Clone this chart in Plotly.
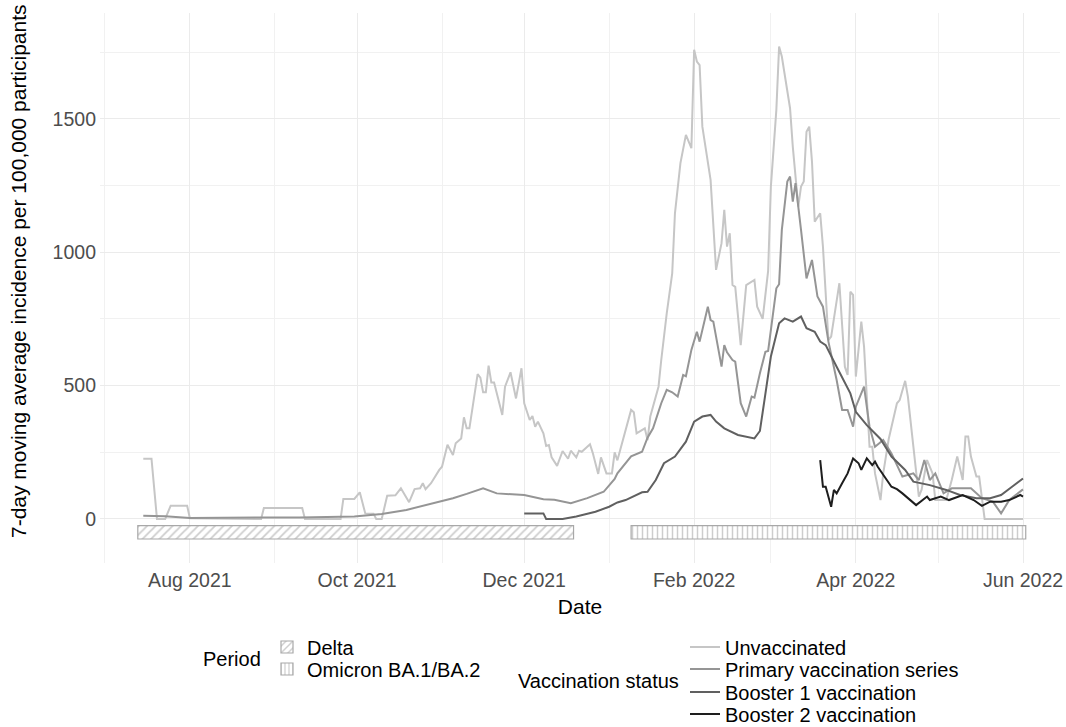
import pandas as pd
import plotly.graph_objects as go

# ---------------- data ----------------
unvacc_dates = ["2021-07-15","2021-07-18","2021-07-20","2021-07-23","2021-07-25","2021-07-31","2021-08-01","2021-08-27",
"2021-08-28","2021-09-11","2021-09-12","2021-09-25","2021-09-26","2021-09-30","2021-10-02","2021-10-04","2021-10-07",
"2021-10-08","2021-10-10","2021-10-12","2021-10-15","2021-10-17","2021-10-20","2021-10-22","2021-10-24","2021-10-25",
"2021-10-26","2021-10-28","2021-10-31","2021-11-01","2021-11-03","2021-11-05","2021-11-06","2021-11-08","2021-11-09",
"2021-11-10","2021-11-11","2021-11-14","2021-11-15","2021-11-16","2021-11-17","2021-11-18","2021-11-19","2021-11-20",
"2021-11-23","2021-11-24","2021-11-26","2021-11-28","2021-11-30","2021-12-01","2021-12-03","2021-12-04","2021-12-05",
"2021-12-06","2021-12-08","2021-12-09","2021-12-10","2021-12-11","2021-12-13","2021-12-14","2021-12-15","2021-12-17",
"2021-12-18","2021-12-20","2021-12-21","2021-12-22","2021-12-25","2021-12-26","2021-12-28","2021-12-29","2021-12-31",
"2022-01-02","2022-01-03","2022-01-04","2022-01-06","2022-01-09","2022-01-10","2022-01-11","2022-01-14","2022-01-15",
"2022-01-16","2022-01-18","2022-01-19","2022-01-20","2022-01-22","2022-01-24","2022-01-25","2022-01-27","2022-01-29",
"2022-01-31","2022-02-01","2022-02-02","2022-02-03","2022-02-04","2022-02-07","2022-02-09","2022-02-11","2022-02-12",
"2022-02-13","2022-02-14","2022-02-15","2022-02-16","2022-02-18","2022-02-20","2022-02-23","2022-02-24","2022-02-26",
"2022-02-28","2022-03-01","2022-03-03","2022-03-04","2022-03-05","2022-03-07","2022-03-08","2022-03-09","2022-03-11",
"2022-03-12","2022-03-13","2022-03-14","2022-03-15","2022-03-16","2022-03-17","2022-03-19","2022-03-20","2022-03-22",
"2022-03-23","2022-03-26","2022-03-28","2022-03-29","2022-03-30","2022-03-31","2022-04-01","2022-04-03","2022-04-04",
"2022-04-06","2022-04-07","2022-04-08","2022-04-10","2022-04-11","2022-04-13","2022-04-16","2022-04-17","2022-04-19",
"2022-04-20","2022-04-22","2022-04-24","2022-04-25","2022-04-27","2022-04-29","2022-04-30","2022-05-04","2022-05-06",
"2022-05-08","2022-05-10","2022-05-11","2022-05-12","2022-05-13","2022-05-15","2022-05-16","2022-05-18","2022-06-01"]
unvacc_values = [226,226,0,0,50,50,3,0,
41,41,0,0,75,75,100,21,20,
0,0,87,89,115,63,112,115,134,
112,134,184,196,278,240,284,302,381,
340,340,543,530,475,475,575,512,512,
390,496,550,452,565,434,371,386,346,
365,321,274,277,231,199,231,255,226,
256,231,256,252,280,248,169,231,171,
171,250,220,296,409,400,321,340,296,
384,459,496,596,771,921,1146,1334,1440,
1390,1759,1715,1702,1471,1271,934,1034,1159,
1021,1071,877,870,652,877,896,796,750,
930,1246,1534,1771,1734,1602,1540,1396,1171,
1246,1265,1452,1471,1340,1115,1146,1021,671,
684,884,571,540,852,840,534,740,646,
271,271,171,71,171,300,434,446,518,
459,271,84,110,221,171,71,71,146,
234,146,309,309,234,159,159,0,0]

primary_dates = ["2021-07-15","2021-07-23","2021-08-01","2021-08-20","2021-09-10","2021-09-30","2021-10-10","2021-10-19",
"2021-10-29","2021-11-05","2021-11-10","2021-11-16","2021-11-21","2021-11-26","2021-12-01","2021-12-08","2021-12-12",
"2021-12-18","2021-12-24","2021-12-30","2022-01-03","2022-01-04","2022-01-07","2022-01-09","2022-01-13","2022-01-15",
"2022-01-17","2022-01-19","2022-01-20","2022-01-22","2022-01-24","2022-01-26","2022-01-28","2022-01-29","2022-01-31",
"2022-02-02","2022-02-03","2022-02-06","2022-02-07","2022-02-08","2022-02-11","2022-02-12","2022-02-13","2022-02-15",
"2022-02-16","2022-02-18","2022-02-20","2022-02-22","2022-02-23","2022-02-25","2022-02-27","2022-02-28","2022-03-03",
"2022-03-04","2022-03-05","2022-03-07","2022-03-08","2022-03-09","2022-03-10","2022-03-12","2022-03-14","2022-03-16",
"2022-03-18","2022-03-20","2022-03-22","2022-03-25","2022-03-27","2022-03-29","2022-03-31","2022-04-01","2022-04-04",
"2022-04-06","2022-04-08","2022-04-11","2022-04-14","2022-04-18","2022-04-22","2022-04-24","2022-04-26","2022-04-28",
"2022-04-30","2022-05-03","2022-05-06","2022-05-13","2022-05-17","2022-05-21","2022-05-24","2022-05-27","2022-06-01"]
primary_values = [12,10,4,4,6,9,19,34,
59,78,94,115,96,94,90,74,72,
59,78,102,150,171,209,235,252,305,
340,409,434,484,475,459,540,535,634,
702,665,796,746,740,571,652,625,596,
590,434,384,459,455,546,627,630,865,
880,1084,1265,1284,1190,1259,1084,902,971,
834,796,665,521,409,409,346,421,496,
346,271,296,246,159,171,146,221,146,
171,96,115,115,78,65,21,71,111]

booster1_dates = ["2021-12-01","2021-12-08","2021-12-09","2021-12-15","2021-12-20","2021-12-27","2022-01-01","2022-01-04",
"2022-01-07","2022-01-13","2022-01-15","2022-01-18","2022-01-21","2022-01-25","2022-01-29","2022-02-01","2022-02-04",
"2022-02-07","2022-02-09","2022-02-12","2022-02-17","2022-02-20","2022-02-23","2022-02-25","2022-02-27","2022-03-01",
"2022-03-04","2022-03-06","2022-03-09","2022-03-12","2022-03-14","2022-03-17","2022-03-19","2022-03-21","2022-03-25",
"2022-03-30","2022-04-01","2022-04-05","2022-04-10","2022-04-14","2022-04-19","2022-04-22","2022-04-28","2022-05-04",
"2022-05-09","2022-05-15","2022-05-20","2022-05-24","2022-05-28","2022-06-01"]
booster1_values = [21,21,0,0,9,27,46,62,
71,100,102,146,209,234,290,365,384,
390,365,340,315,309,302,330,470,609,
734,752,740,759,715,702,665,652,571,
471,402,352,300,234,184,140,127,109,
90,78,78,90,121,152]

booster2_dates = ["2022-03-19","2022-03-20","2022-03-21","2022-03-23","2022-03-24","2022-03-25","2022-03-27","2022-03-29",
"2022-03-31","2022-04-02","2022-04-03","2022-04-05","2022-04-07","2022-04-08","2022-04-09","2022-04-12","2022-04-14",
"2022-04-16","2022-04-18","2022-04-23","2022-04-27","2022-04-28","2022-05-02","2022-05-05","2022-05-08","2022-05-10",
"2022-05-14","2022-05-17","2022-05-20","2022-05-24","2022-05-27","2022-05-31","2022-06-01"]
booster2_values = [221,121,121,46,109,96,134,171,
227,209,184,227,202,215,196,152,121,
112,96,52,84,71,84,71,84,90,
71,49,65,65,71,90,84]

series_names = ["Unvaccinated", "Primary vaccination series", "Booster 1 vaccination", "Booster 2 vaccination"]
series_colors = ["#c6c6c6", "#959595", "#606060", "#1e1e1e"]

period_names = ["Delta", "Omicron BA.1/BA.2"]
period_starts = ["2021-07-13", "2022-01-09"]
period_ends = ["2021-12-19", "2022-06-02"]
period_patterns = ["/", "|"]
period_bar_low = -75
period_bar_high = -25

x_ticks = ["2021-08-01", "2021-10-01", "2021-12-01", "2022-02-01", "2022-04-01", "2022-06-01"]
y_ticks = [0, 500, 1000, 1500]

x_title = "Date"
y_title = "7-day moving average incidence per 100,000 participants"

# ---------------- figure ----------------
FONT = "Liberation Sans, Arial, sans-serif"
W, H = 1066, 727
L, R, T, B = 100, 6, 13, 164
pw, ph = W - L - R, H - T - B


def px_x(px):
    return (px - L) / pw


def px_y(py):
    return (H - B - py) / ph


fig = go.Figure()

# legend item placement (pixel centres)
period_leg_y = [647, 669]
period_leg_text_x = 307
vacc_leg_y = [647, 669, 692, 714]
vacc_leg_text_x = 725
LEG_FONT = 20

legends = {}
leg_idx = 1

# period bars (hatched)
for name, s, e, pat, ly in zip(period_names, period_starts, period_ends, period_patterns, period_leg_y):
    dur = (pd.Timestamp(e) - pd.Timestamp(s)).total_seconds() * 1000
    lid = "legend" if leg_idx == 1 else f"legend{leg_idx}"
    fig.add_trace(go.Bar(
        orientation="h", base=[s], x=[dur],
        y=[(period_bar_low + period_bar_high) / 2], width=period_bar_high - period_bar_low,
        name=name, legend=lid,
        marker=dict(color="white", line=dict(color="#a8a8a8", width=1.2),
                    pattern=dict(shape=pat, fgcolor="#9c9c9c", bgcolor="white",
                                 size=6 if pat == "/" else 5, solidity=0.3)),
        hoverinfo="skip",
    ))
    legends[lid] = dict(x=px_x(period_leg_text_x - 40), y=px_y(ly), xanchor="left", yanchor="middle",
                        font=dict(size=LEG_FONT, family=FONT, color="black"), bgcolor="rgba(0,0,0,0)",
                        itemwidth=30)
    leg_idx += 1

all_dates = [unvacc_dates, primary_dates, booster1_dates, booster2_dates]
all_values = [unvacc_values, primary_values, booster1_values, booster2_values]
for name, col, d, v, ly in zip(series_names, series_colors, all_dates, all_values, vacc_leg_y):
    lid = f"legend{leg_idx}"
    fig.add_trace(go.Scatter(x=d, y=v, mode="lines", name=name, legend=lid,
                             line=dict(color=col, width=2)))
    legends[lid] = dict(x=px_x(vacc_leg_text_x - 40), y=px_y(ly), xanchor="left", yanchor="middle",
                        font=dict(size=LEG_FONT, family=FONT, color="black"), bgcolor="rgba(0,0,0,0)",
                        itemwidth=30)
    leg_idx += 1

grid_col = "#ebebeb"
fig.update_layout(
    width=W, height=H,
    margin=dict(l=L, r=R, t=T, b=B, autoexpand=False),
    paper_bgcolor="white", plot_bgcolor="white",
    font=dict(family=FONT, color="black"),
    barmode="overlay",
    showlegend=True,
    xaxis=dict(
        type="date", range=["2021-06-29 05:00", "2022-06-14 12:00"],
        tickvals=x_ticks, tickformat="%b %Y",
        tickfont=dict(size=19.5, color="#4d4d4d"),
        ticklabelstandoff=3,
        showgrid=True, gridcolor=grid_col, gridwidth=1.2,
        minor=dict(dtick="M1", tick0="2021-07-01", showgrid=True, gridcolor="#f1f1f1", gridwidth=0.8),
        zeroline=False, showline=False, ticks="",
        title=dict(text=x_title, font=dict(size=21, color="black"), standoff=9),
    ),
    yaxis=dict(
        range=[-165, 1897], tickvals=y_ticks,
        tickfont=dict(size=19.5, color="#4d4d4d"),
        ticklabelstandoff=3,
        showgrid=True, gridcolor=grid_col, gridwidth=1.2,
        minor=dict(dtick=250, tick0=0, showgrid=True, gridcolor="#f1f1f1", gridwidth=0.8),
        zeroline=False, showline=False, ticks="",
    ),
    annotations=[
        dict(text=y_title, x=px_x(18), y=px_y(271), xref="paper", yref="paper",
             xanchor="center", yanchor="middle", textangle=-90, showarrow=False,
             font=dict(size=21, color="black")),
        dict(text="Period", x=px_x(263), y=px_y(659), xref="paper", yref="paper",
             xanchor="right", yanchor="middle", showarrow=False, font=dict(size=LEG_FONT)),
        dict(text="Vaccination status", x=px_x(681), y=px_y(681), xref="paper", yref="paper",
             xanchor="right", yanchor="middle", showarrow=False, font=dict(size=LEG_FONT)),
    ],
    **legends,
)

fig.write_html("out.html", config={"displayModeBar": False},
               post_script="document.body.style.margin='0';")
